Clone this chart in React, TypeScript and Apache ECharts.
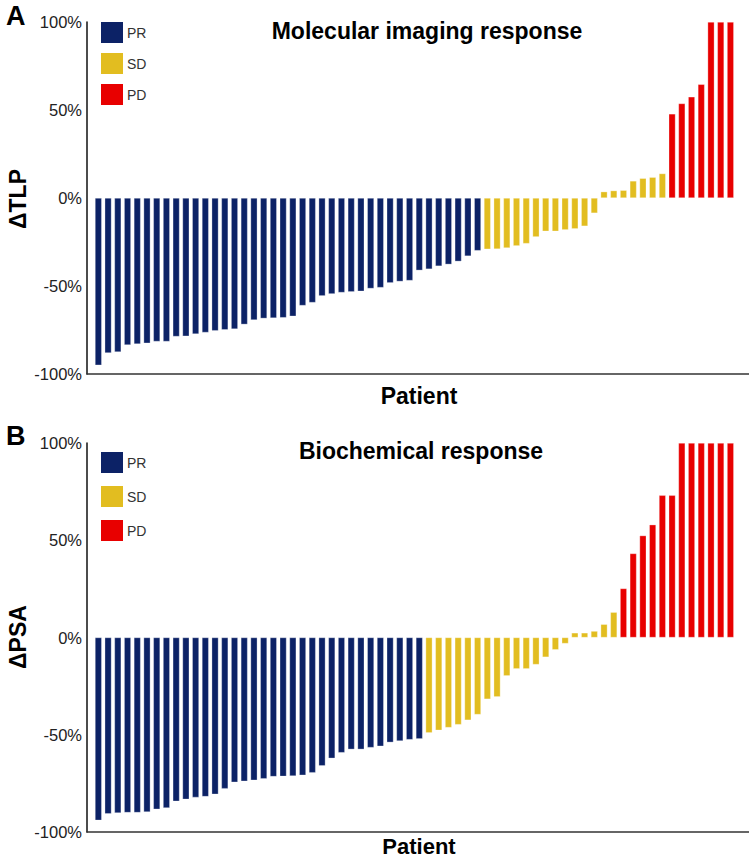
import React, { useEffect, useRef } from "react";
import * as echarts from "echarts";

const patients = Array.from({ length: 66 }, (_, i) => `P${i + 1}`);

// Panel A: change in TLP (%), sorted
const tlpPR = [
  -95, -88, -87.5, -83.5, -83, -82.5, -81.5, -81.5, -78.7, -78.5,
  -77.3, -76.4, -75.4, -74.9, -74.5, -71.8, -69.3, -68.4, -68.2, -68,
  -67.2, -61.1, -59.4, -55.6, -54.5, -53.7, -53.3, -53, -51.4, -50.9,
  -48.2, -47.4, -46.9, -41.1, -40.4, -38.7, -37.7, -36, -33, -29.9,
];
const tlpSD = [
  -29.1, -29, -28.4, -27.2, -25.9, -22.1, -18.9, -18.9, -18.1, -17.5,
  -16, -8.6, 3.6, 4.2, 4.4, 9.7, 11.2, 11.8, 13.9,
];
const tlpPD = [47.8, 53.7, 57.5, 64.6, 100, 100, 100];

// Panel B: change in PSA (%), sorted
const psaPR = [
  -94, -90.6, -90.2, -90, -90, -89.7, -88.3, -87.6, -84.2, -83.2,
  -82.2, -81.8, -80.6, -77.7, -74.4, -73.9, -73.4, -72.6, -71.5, -71.4,
  -71.2, -70.8, -69.5, -66, -62.1, -59.2, -57.5, -57.5, -56.6, -55.9,
  -53.9, -53.2, -52.5, -52.1,
];
const psaSD = [
  -49, -47.7, -46.3, -44.8, -42.5, -39.6, -31.7, -30.5, -19.7, -16.1,
  -16.1, -13.9, -10.1, -6.3, -3.1, 2.4, 2.4, 3.3, 6.8, 13,
];
const psaPD = [25.2, 43.2, 52.4, 58, 73.1, 73.1, 100, 100, 100, 100, 100, 100];

const yTicks = [-100, -50, 0, 50, 100];
const legendNames = ["PR", "SD", "PD"];
const COLORS = { PR: "#0c2266", SD: "#e2bd20", PD: "#e80000" };

function pad(arr: number[], before: number, total: number) {
  const out: (number | string)[] = [];
  for (let i = 0; i < total; i++) {
    const j = i - before;
    out.push(j >= 0 && j < arr.length ? arr[j] : "-");
  }
  return out;
}

export default function App() {
  const ref = useRef<HTMLDivElement>(null);
  useEffect(() => {
    if (!ref.current) return;
    const chart = echarts.init(ref.current, null, { renderer: "svg" });
    const font = "Liberation Sans, Arial, sans-serif";
    const panels = [
      { top: 22, height: 352, pr: tlpPR, sd: tlpSD, pd: tlpPD },
      { top: 443, height: 389, pr: psaPR, sd: psaSD, pd: psaPD },
    ];
    const grid: any[] = [];
    const xAxis: any[] = [];
    const yAxis: any[] = [];
    const series: any[] = [];
    panels.forEach((p, k) => {
      // frame grid (axis lines + labels)
      grid.push({ left: 87, right: 0, top: p.top, height: p.height });
      xAxis.push({
        gridIndex: 2 * k, type: "value", min: 0, max: 1, position: "bottom",
        axisLine: { show: true, onZero: false, lineStyle: { color: "#333", width: 1.5 } },
        axisTick: { show: false }, axisLabel: { show: false }, splitLine: { show: false },
      });
      yAxis.push({
        gridIndex: 2 * k, type: "value", min: yTicks[0], max: yTicks[yTicks.length - 1], interval: 50,
        axisLine: { show: true, lineStyle: { color: "#111", width: 1.5 } },
        axisTick: { show: false }, splitLine: { show: false },
        axisLabel: { formatter: "{value}%", color: "#222", fontSize: 16.5, fontFamily: font, margin: 5 },
      });
      // bars grid
      grid.push({ left: 93.5, width: 641.8, top: p.top, height: p.height });
      xAxis.push({
        gridIndex: 2 * k + 1, type: "category", data: patients, show: false,
      });
      yAxis.push({
        gridIndex: 2 * k + 1, type: "value", min: -100, max: 100, show: false,
      });
      const n1 = p.pr.length, n2 = p.sd.length;
      const groups: [string, number[], number][] = [
        ["PR", p.pr, 0], ["SD", p.sd, n1], ["PD", p.pd, n1 + n2],
      ];
      groups.forEach(([name, arr, before]) => {
        series.push({
          name, type: "bar", xAxisIndex: 2 * k + 1, yAxisIndex: 2 * k + 1,
          data: pad(arr, before, patients.length), stack: "s" + k,
          barWidth: "69%",
          itemStyle: { color: (COLORS as any)[name], borderColor: "rgba(255,255,255,0.6)", borderWidth: 0.5 },
        });
      });
    });

    const legendItems = (top: number, gap: number) =>
      legendNames.flatMap((nm, i) => [
        { type: "rect", shape: { x: 101, y: top + i * gap, width: 22, height: 21 }, style: { fill: (COLORS as any)[nm] } },
        { type: "text", style: { x: 127, y: top + i * gap + 11, text: nm, fill: "#333", font: `14px ${font}`, verticalAlign: "middle" } },
      ]);

    chart.setOption({
      animation: false,
      grid, xAxis, yAxis, series,
      graphic: [
        { type: "text", style: { x: 6, y: 2, text: "A", fill: "#000", font: `bold 27px ${font}` } },
        { type: "text", style: { x: 6, y: 422, text: "B", fill: "#000", font: `bold 27px ${font}` } },
        { type: "text", style: { x: 427, y: 31, text: "Molecular imaging response", fill: "#000", font: `bold 23px ${font}`, align: "center", verticalAlign: "middle" } },
        { type: "text", style: { x: 421, y: 451, text: "Biochemical response", fill: "#000", font: `bold 23px ${font}`, align: "center", verticalAlign: "middle" } },
        { type: "text", style: { x: 419, y: 396, text: "Patient", fill: "#000", font: `bold 23px ${font}`, align: "center", verticalAlign: "middle" } },
        { type: "text", style: { x: 419, y: 846, text: "Patient", fill: "#000", font: `bold 22px ${font}`, align: "center", verticalAlign: "middle" } },
        { type: "text", x: 18, y: 199, rotation: Math.PI / 2, style: { x: 0, y: 0, text: "ΔTLP", fill: "#000", font: `bold 23px ${font}`, align: "center", verticalAlign: "middle" } },
        { type: "text", x: 18, y: 637, rotation: Math.PI / 2, style: { x: 0, y: 0, text: "ΔPSA", fill: "#000", font: `bold 23px ${font}`, align: "center", verticalAlign: "middle" } },
        ...legendItems(22, 31),
        ...legendItems(452, 34),
      ],
    });
    return () => chart.dispose();
  }, []);
  return <div ref={ref} style={{ width: 749, height: 860, position: "absolute", left: 0, top: 0, background: "#fff" }} />;
}
